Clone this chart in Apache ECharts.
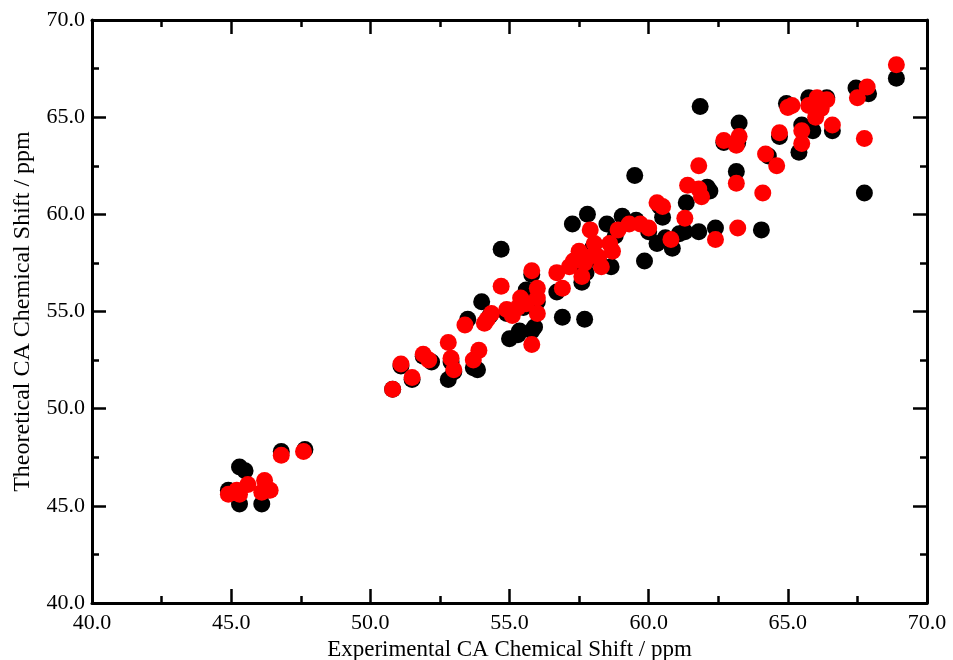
<!DOCTYPE html>
<html>
<head>
<meta charset="utf-8">
<script src="https://cdn.jsdelivr.net/npm/echarts@6/dist/echarts.min.js"></script>
<style>
  html, body { margin: 0; padding: 0; background: #fff; }
  #chart { width: 953px; height: 660px; }
</style>
</head>
<body>
<div id="chart"></div>
<script>
// Axis settings (ppm)
const xRange = [40, 70];
const yRange = [40, 70];
const majorStep = 5;

const xTitle = 'Experimental CA Chemical Shift / ppm';
const yTitle = 'Theoretical CA Chemical Shift / ppm';

// Black set: [experimental, theoretical]
const blackPoints = [
  [44.9, 45.8], [45.3, 47.0], [45.5, 46.8], [45.3, 45.1], [46.1, 45.1], [46.3, 45.8],
  [46.8, 47.8], [47.65, 47.9], [45.1, 45.6],
  [50.8, 51.0], [51.1, 52.2], [51.5, 51.5], [51.9, 52.7], [52.2, 52.4], [52.8, 51.5],
  [52.9, 52.4], [53.0, 51.9], [53.5, 54.6], [53.85, 52.0], [53.7, 52.1], [54.0, 55.5],
  [54.3, 54.8], [54.7, 58.2], [54.9, 54.9], [55.0, 53.6], [55.3, 53.8], [55.36, 54.0],
  [55.5, 55.2], [55.8, 54.0], [55.9, 54.2], [55.6, 56.1], [55.8, 56.9], [56.0, 55.5],
  [56.7, 56.0], [56.9, 54.7], [57.26, 59.5], [57.7, 54.6], [57.6, 56.5], [57.75, 57.0],
  [57.8, 60.0], [57.3, 57.4], [57.5, 57.9], [58.0, 58.3], [58.2, 57.6], [58.5, 59.5],
  [58.65, 57.3], [58.8, 58.9], [59.05, 59.9], [59.55, 59.7], [59.5, 62.0], [59.85, 57.6],
  [60.0, 59.1], [60.3, 58.5], [60.5, 59.85], [60.4, 60.4], [60.6, 58.8], [60.85, 58.25],
  [61.1, 59.0], [61.3, 59.1], [61.35, 60.6], [61.8, 59.1], [61.85, 65.55], [62.1, 61.4],
  [62.2, 61.2], [62.4, 59.3], [63.15, 62.2], [63.25, 64.7], [64.05, 59.2], [64.3, 63.0],
  [63.2, 63.7], [62.7, 63.7],
  [65.4, 63.2], [64.95, 65.7], [65.75, 66.0], [66.4, 66.0], [65.9, 64.3], [66.6, 64.3],
  [67.45, 66.5], [67.9, 66.2], [67.75, 61.1], [68.9, 67.0], [64.7, 64.0], [65.5, 64.6]
];

// Red set: [experimental, theoretical]
const redPoints = [
  [44.9, 45.6], [45.2, 45.8], [45.6, 46.1], [46.2, 46.3], [46.4, 45.8], [46.1, 45.7],
  [46.8, 47.6], [47.6, 47.8], [45.3, 45.6],
  [50.8, 51.0], [51.1, 52.3], [51.5, 51.6], [51.9, 52.8], [52.1, 52.5], [52.8, 53.4],
  [52.9, 52.6], [53.0, 52.0], [53.7, 52.5], [53.9, 53.0], [53.4, 54.3], [54.1, 54.4],
  [54.35, 54.9], [54.7, 56.3], [55.8, 53.3], [55.8, 57.1], [54.9, 55.1], [55.3, 55.2],
  [55.6, 55.4], [56.0, 55.7], [56.0, 54.9], [55.4, 55.7], [56.0, 56.2], [54.2, 54.6],
  [55.1, 54.8],
  [56.7, 57.0], [56.9, 56.2], [57.3, 57.6], [57.5, 58.1], [57.6, 56.8], [57.9, 59.2],
  [58.05, 58.5], [58.2, 57.8], [58.3, 57.3], [58.6, 58.5], [58.9, 59.2], [59.3, 59.5],
  [59.7, 59.5], [60.0, 59.3], [60.3, 60.6], [60.5, 60.4], [60.8, 58.7], [57.15, 57.3],
  [58.7, 58.1], [57.7, 57.5], [58.0, 57.9],
  [61.8, 62.5], [62.7, 63.8], [63.25, 64.0], [63.15, 63.55], [63.15, 61.6], [64.1, 61.1],
  [64.2, 63.1], [64.6, 62.5], [64.7, 64.2], [65.0, 65.5], [61.4, 61.5], [61.8, 61.3],
  [61.9, 60.9], [61.3, 59.8], [62.4, 58.7], [63.2, 59.3], [65.5, 64.3], [65.5, 63.65],
  [68.9, 67.7], [67.75, 63.9], [66.6, 64.6], [67.5, 66.0], [67.85, 66.55], [66.05, 66.0],
  [65.75, 65.6], [66.2, 65.45], [65.15, 65.6], [66.0, 65.0], [66.4, 65.9]
];

const FONT = '"Liberation Serif", "DejaVu Serif", serif';

function frameAxis(extra) {
  return Object.assign({
    type: 'value',
    interval: majorStep,
    axisLine: { show: true, onZero: false, lineStyle: { color: '#000', width: 3 } },
    axisTick: { show: true, inside: true, length: 14, lineStyle: { color: '#000', width: 2.5 } },
    minorTick: { show: true, splitNumber: 2, length: 7, lineStyle: { color: '#000', width: 2.5 } },
    splitLine: { show: false },
    axisLabel: {
      color: '#000', fontFamily: FONT, fontSize: 22, margin: 7,
      formatter: v => v.toFixed(1)
    }
  }, extra);
}

const chart = echarts.init(document.getElementById('chart'), null, { renderer: 'canvas' });
chart.setOption({
  animation: false,
  backgroundColor: '#fff',
  grid: {
    left: 92, right: 26, top: 20, bottom: 57,
    containLabel: false, outerBoundsMode: 'none'
  },
  xAxis: [
    frameAxis({
      min: xRange[0], max: xRange[1], position: 'bottom',
      axisLabel: {
        color: '#000', fontFamily: FONT, fontSize: 22, margin: 9,
        formatter: v => v.toFixed(1)
      },
      name: xTitle, nameLocation: 'middle', nameGap: 29,
      nameTextStyle: { color: '#000', fontFamily: FONT, fontSize: 23 }
    }),
    frameAxis({
      min: xRange[0], max: xRange[1], position: 'top',
      axisLabel: { show: false }
    })
  ],
  yAxis: [
    frameAxis({
      min: yRange[0], max: yRange[1], position: 'left',
      name: yTitle, nameLocation: 'middle', nameGap: 57,
      nameTextStyle: { color: '#000', fontFamily: FONT, fontSize: 24 }
    }),
    frameAxis({
      min: yRange[0], max: yRange[1], position: 'right',
      axisLabel: { show: false }
    })
  ],
  series: [
    {
      type: 'scatter', xAxisIndex: 0, yAxisIndex: 0,
      data: blackPoints, symbol: 'circle', symbolSize: 17,
      itemStyle: { color: '#000', opacity: 1 }
    },
    {
      type: 'scatter', xAxisIndex: 0, yAxisIndex: 0,
      data: redPoints, symbol: 'circle', symbolSize: 17,
      itemStyle: { color: '#ff0000', opacity: 1 }
    }
  ]
});
</script>
</body>
</html>
